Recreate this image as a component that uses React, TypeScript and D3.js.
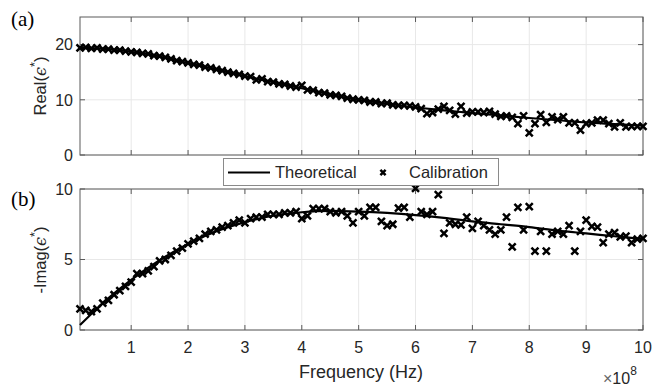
import React from "react";
import * as d3 from "d3";

// Frequencies in units of 1e8 Hz
const calFreq = [
  0.1, 0.2, 0.3, 0.4, 0.5, 0.6, 0.7, 0.8, 0.9, 1.0,
  1.1, 1.2, 1.3, 1.4, 1.5, 1.6, 1.7, 1.8, 1.9, 2.0,
  2.1, 2.2, 2.3, 2.4, 2.5, 2.6, 2.7, 2.8, 2.9, 3.0,
  3.1, 3.2, 3.3, 3.4, 3.5, 3.6, 3.7, 3.8, 3.9, 4.0,
  4.1, 4.2, 4.3, 4.4, 4.5, 4.6, 4.7, 4.8, 4.9, 5.0,
  5.1, 5.2, 5.3, 5.4, 5.5, 5.6, 5.7, 5.8, 5.9, 6.0,
  6.1, 6.2, 6.3, 6.4, 6.5, 6.6, 6.7, 6.8, 6.9, 7.0,
  7.1, 7.2, 7.3, 7.4, 7.5, 7.6, 7.7, 7.8, 7.9, 8.0,
  8.1, 8.2, 8.3, 8.4, 8.5, 8.6, 8.7, 8.8, 8.9, 9.0,
  9.1, 9.2, 9.3, 9.4, 9.5, 9.6, 9.7, 9.8, 9.9, 10.0,
];

const calReal = [
  19.4, 19.5, 19.3, 19.4, 19.2, 19.2, 19.0, 19.0, 18.8, 18.7,
  18.6, 18.4, 18.3, 18.0, 17.9, 17.7, 17.4, 17.1, 16.9, 16.7,
  16.4, 16.3, 15.9, 15.8, 15.5, 15.3, 15.0, 14.8, 14.6, 14.3,
  14.2, 13.6, 13.8, 13.3, 13.2, 12.9, 12.8, 12.5, 12.3, 12.6,
  11.8, 11.7, 11.3, 11.2, 10.9, 10.8, 10.6, 10.3, 10.1, 10.0,
  9.9, 9.6, 9.6, 9.3, 9.4, 9.1, 9.0, 9.0, 8.9, 8.7,
  8.4, 7.5, 7.7, 8.3, 8.8, 8.1, 7.4, 8.8, 7.6, 7.8,
  7.8, 7.7, 7.9, 7.4, 7.0, 7.1, 6.8, 5.7, 7.1, 4.0,
  5.7, 7.3, 5.9, 6.9, 6.4, 6.9, 5.8, 5.8, 4.5, 5.7,
  5.8, 6.3, 6.3, 5.7, 5.1, 5.8, 5.1, 5.2, 5.2, 5.2,
];

const calImag = [
  1.5, 1.4, 1.3, 1.5, 1.9, 2.1, 2.5, 2.8, 3.1, 3.4,
  4.0, 4.0, 4.2, 4.5, 4.9, 5.0, 5.3, 5.6, 5.8, 6.1,
  6.3, 6.5, 6.8, 7.0, 7.1, 7.3, 7.4, 7.6, 7.8, 7.6,
  7.9, 8.0, 8.0, 8.2, 8.2, 8.2, 8.3, 8.3, 8.4, 7.9,
  8.1, 8.6, 8.6, 8.6, 8.4, 8.3, 8.4, 8.1, 7.6, 8.4,
  8.1, 8.7, 8.7, 7.7, 7.4, 7.5, 8.65, 8.7, 8.0, 10.05,
  8.4, 8.2, 8.4, 9.6, 6.85, 7.6, 7.5, 7.45, 8.0, 7.2,
  7.7, 7.4, 7.1, 6.8, 7.1, 8.0, 5.9, 8.7, 7.1, 8.75,
  5.6, 7.0, 5.6, 6.8, 7.0, 6.8, 7.4, 5.6, 7.0, 7.8,
  7.35, 7.3, 6.2, 6.8, 6.9, 6.6, 6.65, 6.2, 6.45, 6.5,
];

const thFreq = [0.1, 0.5, 1.0, 1.5, 2.0, 2.5, 3.0, 3.5, 4.0, 4.5, 5.0, 5.5, 6.0, 6.5, 7.0, 7.5, 8.0, 8.5, 9.0, 9.5, 10.0];
const thReal = [19.4, 19.25, 18.7, 17.85, 16.65, 15.5, 14.3, 13.2, 12.1, 10.95, 10.0, 9.3, 8.6, 8.1, 7.6, 7.15, 6.7, 6.3, 5.9, 5.6, 5.3];
const thImag = [0.35, 1.9, 3.55, 4.95, 6.1, 7.0, 7.65, 8.1, 8.35, 8.45, 8.4, 8.3, 8.15, 7.95, 7.7, 7.5, 7.3, 7.05, 6.85, 6.65, 6.45];

const xTicks = [1, 2, 3, 4, 5, 6, 7, 8, 9, 10];
const realTicks = [0, 10, 20];
const imagTicks = [0, 5, 10];

const W = 668;
const H = 391;
const L = 80;
const R = 643;
const FONT = "'Liberation Sans', Arial, sans-serif";
const AX = "#5a5a5a";
const GRID = "#e8e8e8";
const TXT = "#262626";

const x = d3.scaleLinear().domain([0.1, 10]).range([L, R]);

function Cross({ cx, cy, s = 3.5 }: { cx: number; cy: number; s?: number }) {
  return (
    <path
      d={`M${cx - s},${cy - s}L${cx + s},${cy + s}M${cx - s},${cy + s}L${cx + s},${cy - s}`}
      stroke="#000"
      strokeWidth={2.5}
      fill="none"
    />
  );
}

function Panel({
  top,
  bottom,
  ymax,
  yTicks,
  cal,
  th,
  showX,
}: {
  top: number;
  bottom: number;
  ymax: number;
  yTicks: number[];
  cal: number[];
  th: number[];
  showX: boolean;
}) {
  const y = d3.scaleLinear().domain([0, ymax]).range([bottom, top]);
  const line = d3
    .line<number>()
    .x((_, i) => x(thFreq[i]))
    .y((d) => y(d))
    .curve(d3.curveMonotoneX);
  const tl = 5;
  return (
    <g>
      <rect x={L} y={top} width={R - L} height={bottom - top} fill="#fff" />
      {xTicks.map((t) => (
        <line key={"gx" + t} x1={x(t)} x2={x(t)} y1={top} y2={bottom} stroke={GRID} strokeWidth={1} />
      ))}
      {yTicks.map((t) => (
        <line key={"gy" + t} x1={L} x2={R} y1={y(t)} y2={y(t)} stroke={GRID} strokeWidth={1} />
      ))}
      <rect x={L} y={top} width={R - L} height={bottom - top} fill="none" stroke={AX} strokeWidth={1} />
      {xTicks.map((t) => (
        <g key={"tx" + t}>
          <line x1={x(t)} x2={x(t)} y1={bottom} y2={bottom - tl} stroke={AX} />
          <line x1={x(t)} x2={x(t)} y1={top} y2={top + tl} stroke={AX} />
          {showX && (
            <text x={x(t)} y={bottom + 23} textAnchor="middle" fontSize={16} fill={TXT} fontFamily={FONT}>
              {t}
            </text>
          )}
        </g>
      ))}
      {yTicks.map((t) => (
        <g key={"ty" + t}>
          <line x1={L} x2={L + tl} y1={y(t)} y2={y(t)} stroke={AX} />
          <line x1={R} x2={R - tl} y1={y(t)} y2={y(t)} stroke={AX} />
          <text x={L - 7} y={y(t)} dy="0.36em" textAnchor="end" fontSize={16} fill={TXT} fontFamily={FONT}>
            {t}
          </text>
        </g>
      ))}
      <path d={line(th) || ""} fill="none" stroke="#000" strokeWidth={2.2} />
      {cal.map((v, i) => (
        <Cross key={i} cx={x(calFreq[i])} cy={y(v)} />
      ))}
    </g>
  );
}

function EpsLabel({ prefix, cx, cy }: { prefix: string; cx: number; cy: number }) {
  return (
    <text
      transform={`translate(${cx},${cy}) rotate(-90)`}
      textAnchor="middle"
      fontSize={16.5}
      fontFamily={FONT}
      fill={TXT}
    >
      {prefix}(
      <tspan fontStyle="italic" fontFamily="'DejaVu Serif', serif" fontSize={16}>
        ϵ
      </tspan>
      <tspan fontSize={13} dy={-7}>
        *
      </tspan>
      <tspan dy={7}>)</tspan>
    </text>
  );
}

export default function App() {
  return (
    <svg
      width={W}
      height={H}
      style={{ position: "absolute", left: 0, top: 0, background: "#fff" }}
      xmlns="http://www.w3.org/2000/svg"
    >
      <rect width={W} height={H} fill="#fff" />
      <Panel top={17} bottom={155} ymax={25} yTicks={realTicks} cal={calReal} th={thReal} showX={false} />
      <Panel top={189} bottom={330} ymax={10} yTicks={imagTicks} cal={calImag} th={thImag} showX={true} />

      <text x={11} y={26} fontSize={21} fontFamily="'Liberation Serif', 'Times New Roman', serif" fill="#000">
        (a)
      </text>
      <text x={11} y={206} fontSize={21} fontFamily="'Liberation Serif', 'Times New Roman', serif" fill="#000">
        (b)
      </text>

      <EpsLabel prefix="Real" cx={46} cy={86} />
      <EpsLabel prefix="-Imag" cx={46} cy={260} />

      <text x={361} y={378} textAnchor="middle" fontSize={18} fontFamily={FONT} fill={TXT}>
        Frequency (Hz)
      </text>
      <text x={603} y={384} fontSize={16} fontFamily={FONT} fill={TXT}>
        <tspan fill="#666">×</tspan>10<tspan fontSize={12} dy={-9}>8</tspan>
      </text>

      {/* legend */}
      <g>
        <rect x={223.5} y={158.5} width={275} height={27} fill="#fff" stroke="#8a8a8a" strokeWidth={1} />
        <line x1={228} x2={270} y1={172.5} y2={172.5} stroke="#000" strokeWidth={2.2} />
        <text x={275} y={178} fontSize={16.5} fontFamily={FONT} fill={TXT}>
          Theoretical
        </text>
        <Cross cx={383} cy={172.5} s={2.6} />
        <text x={409} y={178} fontSize={16.5} fontFamily={FONT} fill={TXT}>
          Calibration
        </text>
      </g>
    </svg>
  );
}
